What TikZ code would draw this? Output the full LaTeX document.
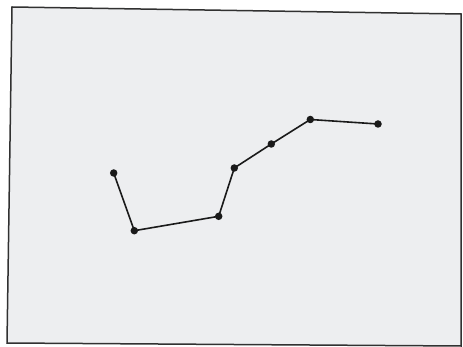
\documentclass[tikz,border=0pt]{standalone}
\definecolor{paper}{HTML}{EDEEF0}
\definecolor{ink}{HTML}{1A1A1A}
\tikzset{
  pt/.style={circle,fill=ink,inner sep=0pt,minimum size=7.5pt},
  seg/.style={draw=ink,line width=1.6pt},
  frame/.style={draw=ink!90,line width=1.5pt,fill=paper}
}
\begin{document}
\begin{tikzpicture}[x=1pt,y=-1pt]
\useasboundingbox (0,0) rectangle (463,347);
\fill[white] (0,0) rectangle (463,347);
\draw[frame] (12,7) -- (461,14) -- (461,346) -- (7,343) -- cycle;
\node[pt] (p1) at (113.7,173) {};
\node[pt] (p2) at (134.3,230.7) {};
\node[pt] (p3) at (218.7,216.3) {};
\node[pt] (p4) at (234.3,168) {};
\node[pt] (p5) at (271.3,144) {};
\node[pt] (p6) at (310.3,119.5) {};
\node[pt] (p7) at (378,124) {};
\draw[seg] (p1.center) -- (p2.center) -- (p3.center) -- (p4.center) -- (p5.center) -- (p6.center) -- (p7.center);
\end{tikzpicture}
\end{document}
